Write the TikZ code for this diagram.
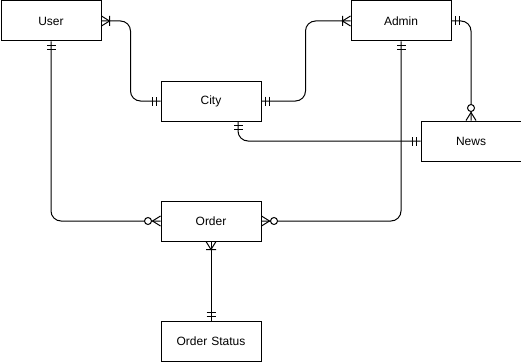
\documentclass[tikz,border=0pt]{standalone}
\usepackage{fontspec}
\setmainfont{Liberation Sans}
\usepackage{tikz}
\usetikzlibrary{decorations.markings}
\tikzstyle{entite} = [rectangle, draw=black, line width=1pt, minimum height=40pt, minimum width=100pt, text width=90pt, text centered, font=\fontsize{12}{14}\selectfont]
\tikzstyle{lien} = [draw=black, line width=1pt, rounded corners=10pt]

% cardinality marks, node border at x=0, line coming from x<0
\newcommand{\mandone}{\draw[sharp corners, line width=1pt] (-4pt,-4.5pt) -- (-4pt,4.5pt) (-8pt,-4.5pt) -- (-8pt,4.5pt);}
\newcommand{\onemany}{\draw[sharp corners, line width=1pt] (0pt,-5pt) -- (-8pt,0pt) -- (0pt,5pt) (-8pt,-5pt) -- (-8pt,5pt);}
\newcommand{\zeromany}{\draw[sharp corners, line width=1pt] (0pt,-5pt) -- (-8pt,0pt) -- (0pt,5pt);
    \draw[line width=1pt, fill=white] (-12.5pt,0pt) circle (3.5pt);}
\tikzset{
    fin/.style={postaction={decorate, decoration={markings, mark=at position 1 with {#1}}}},
    debut/.style={postaction={decorate, decoration={markings, mark=at position 0 with {\begin{scope}[rotate=180]#1\end{scope}}}}},
}

\begin{document}
\begin{tikzpicture}[x=1pt, y=1pt]
        \useasboundingbox (0,0) rectangle (521,-361);

        \node (user) [entite, anchor=north west] at (0.5,-0.5) {User};
        \node (admin) [entite, anchor=north west] at (350.5,-0.5) {Admin};
        \node (city) [entite, anchor=north west] at (160.5,-80.5) {City};
        \node (news) [entite, anchor=north west] at (420.5,-120.5) {News};
        \node (order) [entite, anchor=north west] at (160.5,-200.5) {Order};
        \node (status) [entite, anchor=north west] at (160.5,-320.5) {Order Status};

        \draw[lien, debut=\onemany, fin=\mandone] (user.east) -| ([xshift=-30pt]city.west) -- (city.west);
        \draw[lien, debut=\mandone, fin=\onemany] (city.east) -| ([xshift=-45pt]admin.west) -- (admin.west);
        \draw[lien, debut=\mandone, fin=\zeromany] (admin.east) -| (news.north);
        \draw[lien, debut=\mandone, fin=\mandone] ([xshift=27pt]city.south) |- (news.west);
        \draw[lien, debut=\mandone, fin=\zeromany] (user.south) |- (order.west);
        \draw[lien, debut=\mandone, fin=\zeromany] (admin.south) |- (order.east);
        \draw[lien, debut=\onemany, fin=\mandone] (order.south) -- (status.north);

    \end{tikzpicture}
\end{document}
